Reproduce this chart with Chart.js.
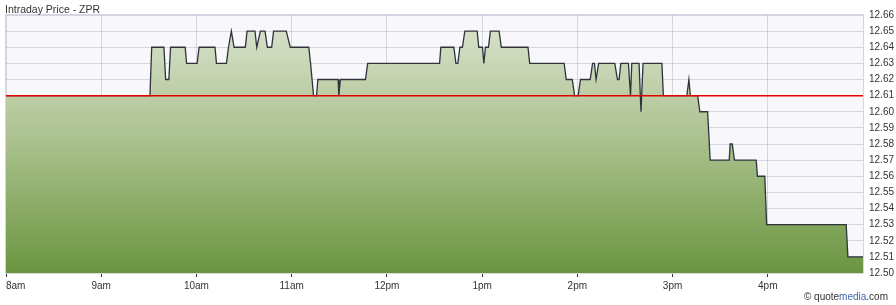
<!DOCTYPE html>
<html lang="en">
<head>
<meta charset="UTF-8">
<title>Intraday Price - ZPR</title>
<script src="https://cdn.jsdelivr.net/npm/chart.js"></script>
<style>
    html, body { margin: 0; padding: 0; background: #fff; }
    #wrap { width: 896px; height: 305px; position: relative; }
</style>
</head>
<body>
<div id="wrap"><canvas id="priceChart"></canvas></div>
<script>
// trade times, in minutes after 8:00 am
const tradeMinutes = [
    0, 90.7, 91.8, 99.5, 100.6, 102.6, 103.7, 112.9, 113.8, 120.4,
    121.7, 131.7, 132.6, 138.9, 140.2, 142.0, 143.7, 150.8, 151.9, 156.9,
    158.0, 160.3, 163.2, 164.7, 167.4, 168.6, 176.6, 179.1, 190.8, 191.9,
    193.8, 195.7, 196.5, 209.3, 209.7, 210.7, 226.5, 227.9, 273.2, 274.0,
    282.2, 283.5, 284.7, 286.0, 287.6, 289.1, 296.9, 297.9, 300.2, 301.1,
    302.1, 304.0, 305.2, 310.7, 312.1, 328.9, 330.0, 351.7, 353.0, 356.8,
    358.3, 360.5, 362.0, 368.1, 369.6, 370.8, 371.8, 373.4, 383.6, 385.3,
    386.3, 387.4, 392.2, 393.5, 394.3, 398.9, 400.1, 401.4, 413.3, 414.2,
    429.0, 430.3, 431.2, 435.8, 437.2, 442.1, 443.7, 455.7, 456.3, 457.6,
    459.0, 472.7, 473.5, 478.1, 479.3, 529.4, 530.5, 540
];
const tradePrices = [
    12.61, 12.61, 12.64, 12.64, 12.62, 12.62, 12.64, 12.64, 12.63, 12.63,
    12.64, 12.64, 12.63, 12.63, 12.64, 12.65, 12.64, 12.64, 12.65, 12.65,
    12.64, 12.65, 12.65, 12.64, 12.64, 12.65, 12.65, 12.64, 12.64, 12.63,
    12.61, 12.61, 12.62, 12.62, 12.61, 12.62, 12.62, 12.63, 12.63, 12.64,
    12.64, 12.63, 12.63, 12.64, 12.64, 12.65, 12.65, 12.64, 12.64, 12.63,
    12.64, 12.64, 12.65, 12.65, 12.64, 12.64, 12.63, 12.63, 12.62, 12.62,
    12.61, 12.61, 12.62, 12.62, 12.63, 12.63, 12.62, 12.63, 12.63, 12.62,
    12.62, 12.63, 12.63, 12.61, 12.63, 12.63, 12.60, 12.63, 12.63, 12.61,
    12.61, 12.62, 12.61, 12.61, 12.60, 12.60, 12.57, 12.57, 12.58, 12.58,
    12.57, 12.57, 12.56, 12.56, 12.53, 12.53, 12.51, 12.51
];
const prevClose = 12.61;
const hourLabels = ['8am', '9am', '10am', '11am', '12pm', '1pm', '2pm', '3pm', '4pm', ''];
const priceMin = 12.50;
const priceMax = 12.66;

Chart.defaults.font.family = '"Liberation Sans", Arial, sans-serif';
Chart.defaults.font.size = 10;
Chart.defaults.color = '#333';

// plot background, border, title and credit
const frame = {
    id: 'frame',
    beforeDraw(chart) {
        const { ctx, chartArea: a } = chart;
        ctx.save();
        ctx.fillStyle = '#f8f8fa';
        ctx.fillRect(a.left, a.top, a.right - a.left, a.bottom - a.top);
        ctx.restore();
    },
    afterDraw(chart) {
        const { ctx, chartArea: a } = chart;
        ctx.save();
        ctx.strokeStyle = '#d4d6e0';
        ctx.lineWidth = 1;
        ctx.strokeRect(a.left - 0.5, a.top - 0.5, a.right - a.left + 1, a.bottom - a.top + 1);

        ctx.fillStyle = '#333';
        ctx.font = '10.5px "Liberation Sans", Arial, sans-serif';
        ctx.textBaseline = 'alphabetic';
        ctx.textAlign = 'left';
        ctx.fillText('Intraday Price - ZPR', 5, 13);

        // © quotemedia.com
        ctx.font = '10px "Liberation Sans", Arial, sans-serif';
        const parts = [['\u00a9 quote', '#333'], ['media', '#3b66b0'], ['.com', '#333']];
        let total = 0;
        parts.forEach(p => total += ctx.measureText(p[0]).width);
        let x = 888 - total;
        parts.forEach(p => {
            ctx.fillStyle = p[1];
            ctx.fillText(p[0], x, 300);
            x += ctx.measureText(p[0]).width;
        });
        ctx.restore();
    }
};

function areaGradient(context) {
    const { ctx, chartArea } = context.chart;
    if (!chartArea) return '#b5c99d';
    const g = ctx.createLinearGradient(0, chartArea.top, 0, chartArea.bottom);
    g.addColorStop(0, '#dce4d0');
    g.addColorStop(0.5, '#a9c08c');
    g.addColorStop(1, '#6b9540');
    return g;
}

const pricePoints = tradeMinutes.map((m, i) => ({ x: m, y: tradePrices[i] }));
const closePoints = [{ x: 0, y: prevClose }, { x: 540, y: prevClose }];

new Chart(document.getElementById('priceChart'), {
    type: 'line',
    data: {
        datasets: [
            {
                label: 'Previous close',
                data: closePoints,
                borderColor: '#e00000',
                borderWidth: 1.5,
                pointRadius: 0,
                fill: false,
                order: 0
            },
            {
                label: 'ZPR',
                data: pricePoints,
                borderColor: '#2e343c',
                borderWidth: 1.3,
                pointRadius: 0,
                tension: 0,
                fill: 'start',
                backgroundColor: areaGradient,
                order: 1
            }
        ]
    },
    options: {
        responsive: true,
        maintainAspectRatio: false,
        animation: false,
        events: [],
        layout: { padding: { left: 6, top: 15, right: 0, bottom: 0 } },
        plugins: {
            legend: { display: false },
            tooltip: { enabled: false },
            title: { display: false }
        },
        scales: {
            x: {
                type: 'linear',
                min: 0,
                max: 540,
                z: 1,
                border: { display: false },
                grid: {
                    color: 'rgba(130,135,170,0.3)',
                    tickColor: c => (c.tick && c.tick.value === 540) ? 'rgba(0,0,0,0)' : '#333',
                    tickLength: 4,
                    drawTicks: true
                },
                ticks: {
                    stepSize: 60,
                    autoSkip: false,
                    maxRotation: 0,
                    align: 'inner',
                    padding: 3,
                    color: '#333',
                    callback: v => hourLabels[Math.round(v / 60)]
                },
                afterFit(scale) {
                    scale.height = 32;
                    scale.paddingLeft = 0;
                    scale.paddingRight = 0;
                }
            },
            y: {
                position: 'right',
                min: priceMin,
                max: priceMax,
                z: 1,
                border: { display: false },
                grid: {
                    color: 'rgba(130,135,170,0.3)',
                    drawTicks: false,
                    tickLength: 0
                },
                ticks: {
                    stepSize: 0.01,
                    autoSkip: false,
                    padding: 6,
                    color: '#333',
                    callback: v => v.toFixed(2)
                },
                afterFit(scale) {
                    scale.width = 33;
                    scale.paddingTop = 0;
                    scale.paddingBottom = 0;
                }
            }
        }
    },
    plugins: [frame]
});
</script>
</body>
</html>
